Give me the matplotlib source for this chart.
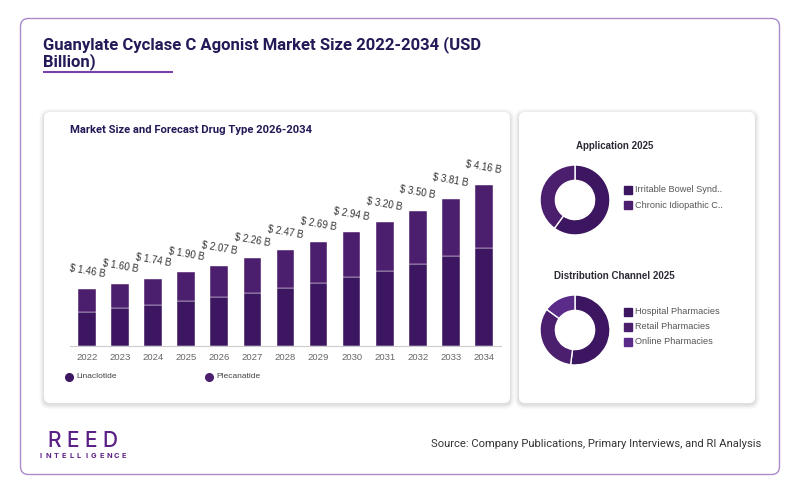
import matplotlib
matplotlib.use("Agg")
import matplotlib.pyplot as plt
from matplotlib.patches import FancyBboxPatch
from matplotlib.lines import Line2D

years = ["2022", "2023", "2024", "2025", "2026", "2027", "2028", "2029", "2030", "2031", "2032", "2033", "2034"]
totals = [1.46, 1.60, 1.74, 1.90, 2.07, 2.26, 2.47, 2.69, 2.94, 3.20, 3.50, 3.81, 4.16]
linaclotide = [0.88, 0.98, 1.06, 1.16, 1.26, 1.37, 1.50, 1.63, 1.79, 1.94, 2.12, 2.32, 2.53]
plecanatide = [t - l for t, l in zip(totals, linaclotide)]
drug_labels = ["Linaclotide", "Plecanatide"]

app_labels = ["Irritable Bowel Synd..", "Chronic Idiopathic C.."]
app_values = [60, 40]
dist_labels = ["Hospital Pharmacies", "Retail Pharmacies", "Online Pharmacies"]
dist_values = [52, 33, 15]

C1 = "#3c1660"
C2 = "#4c1f6e"
C3 = "#5b2b8a"
TITLE = "#241a57"
FONT = "Liberation Sans"

W, H = 800, 493
fig = plt.figure(figsize=(W / 100, H / 100), dpi=100)
fig.patch.set_facecolor("white")

def fx(x):
    return x / W

def fy(y):
    return 1 - y / H

# background axes in pixel coordinates
bg = fig.add_axes([0, 0, 1, 1])
bg.set_xlim(0, W)
bg.set_ylim(H, 0)
bg.axis("off")

bg.add_patch(FancyBboxPatch((20.5, 18.5), 759, 456, boxstyle="round,pad=0,rounding_size=8",
                            facecolor="white", edgecolor="#a98bc9", linewidth=1.0))

def panel(x0, y0, x1, y1):
    for i, a in enumerate([0.035, 0.03, 0.025, 0.02, 0.015]):
        d = i + 1
        bg.add_patch(FancyBboxPatch((x0 - d, y0 - d + 1.5), x1 - x0 + 2 * d, y1 - y0 + 2 * d,
                                    boxstyle="round,pad=0,rounding_size=%d" % (6 + d),
                                    facecolor="black", edgecolor="none", alpha=a))
    bg.add_patch(FancyBboxPatch((x0, y0), x1 - x0, y1 - y0, boxstyle="round,pad=0,rounding_size=6",
                                facecolor="white", edgecolor="none"))

panel(44, 112, 510, 403)
panel(519, 112, 755, 403)

bg.text(43, 45, "Guanylate Cyclase C Agonist Market Size 2022-2034 (USD", fontsize=12,
        fontweight="bold", color=TITLE, va="center", ha="left", family="Roboto")
bg.text(43, 62, "Billion)", fontsize=12, fontweight="bold", color=TITLE, va="center",
        ha="left", family="Roboto")
bg.plot([43, 173], [72, 72], color="#7b3fa8", linewidth=1.5, solid_capstyle="butt")

bg.text(70, 130, "Market Size and Forecast Drug Type 2026-2034", fontsize=8.1, fontweight="bold",
        color=TITLE, va="center", ha="left", family="Roboto")

# legend for bars
for xm, lab, c in [(69, drug_labels[0], C1), (209, drug_labels[1], C2)]:
    bg.add_line(Line2D([xm], [376.5], marker="o", markersize=5.5, color=c, linestyle="none"))
    bg.text(xm + 7, 376.5, lab, fontsize=6, color="#444444", va="center", ha="left", family=FONT)

# donut titles
bg.text(615, 146, "Application 2025", fontsize=7, fontweight="bold", color="#2b2b36",
        ha="center", va="center", family=FONT)
bg.text(614, 276, "Distribution Channel 2025", fontsize=7, fontweight="bold", color="#2b2b36",
        ha="center", va="center", family=FONT)

# donut legends
for i, (lab, c) in enumerate(zip(app_labels, [C1, C2])):
    y = 190 + 15 * i
    bg.add_line(Line2D([627.5], [y], marker="s", markersize=6, color=c, linestyle="none"))
    bg.text(635, y, lab, fontsize=6.6, color="#555555", va="center", ha="left", family=FONT)
for i, (lab, c) in enumerate(zip(dist_labels, [C1, C2, C3])):
    y = 311.5 + 15 * i
    bg.add_line(Line2D([627.5], [y], marker="s", markersize=6, color=c, linestyle="none"))
    bg.text(635, y, lab, fontsize=6.6, color="#555555", va="center", ha="left", family=FONT)

# footer
bg.text(82.5, 441, "R E E D", fontsize=15, fontweight="medium", color="#5a1f85",
        ha="center", va="center", family="Inter")
word = "INTELLIGENCE"
for i, ch in enumerate(word):
    bg.text(41 + i * (124 - 41) / (len(word) - 1), 456.5, ch, fontsize=5.3, fontweight="bold",
            color="#5a1f85", ha="center", va="center", family="Inter")
bg.text(761, 444, "Source: Company Publications, Primary Interviews, and RI Analysis", fontsize=8.1,
        color="#333333", ha="right", va="center", family="Roboto")

# bar chart
base_px, top_px = 345.7, 150
px_per_unit = 38.6
ax = fig.add_axes([fx(70), fy(base_px), fx(501 - 70), (base_px - top_px) / H])
x = list(range(len(years)))
ax.bar(x, linaclotide, width=0.535, color=C1, edgecolor="white", linewidth=0.3)
ax.bar(x, plecanatide, bottom=linaclotide, width=0.535, color=C2, edgecolor="white", linewidth=0.3)
for xi, t in zip(x, totals):
    ax.annotate("$ %.2f B" % t, (xi, t), xytext=(0, 13), textcoords="offset points",
                ha="center", va="center", rotation=-10, rotation_mode="anchor",
                fontsize=7, color="#333333", family=FONT)
ax.set_xlim(-0.514, 12.515)
ax.set_ylim(0, (base_px - top_px) / px_per_unit)
ax.set_xticks(x)
ax.set_xticklabels(years, fontsize=6.8, color="#666666", family=FONT)
ax.tick_params(axis="x", length=0, pad=5)
ax.set_yticks([])
for s in ["top", "right", "left"]:
    ax.spines[s].set_visible(False)
ax.spines["bottom"].set_color("#cccccc")
ax.spines["bottom"].set_linewidth(0.8)
ax.patch.set_alpha(0)

def donut(cx, cy, vals, cols):
    r = 35
    a = fig.add_axes([fx(cx - r), fy(cy + r), 2 * r / W, 2 * r / H])
    a.pie(vals, colors=cols, startangle=90, counterclock=False, radius=1,
          wedgeprops=dict(width=0.44, edgecolor="white", linewidth=1))
    a.set_xlim(-1, 1)
    a.set_ylim(-1, 1)
    a.set_aspect("auto")
    a.axis("off")

donut(575, 200, app_values, [C1, C2])
donut(575, 330, dist_values, [C1, C2, C3])

fig.savefig("out.png", dpi=100, facecolor="white")
